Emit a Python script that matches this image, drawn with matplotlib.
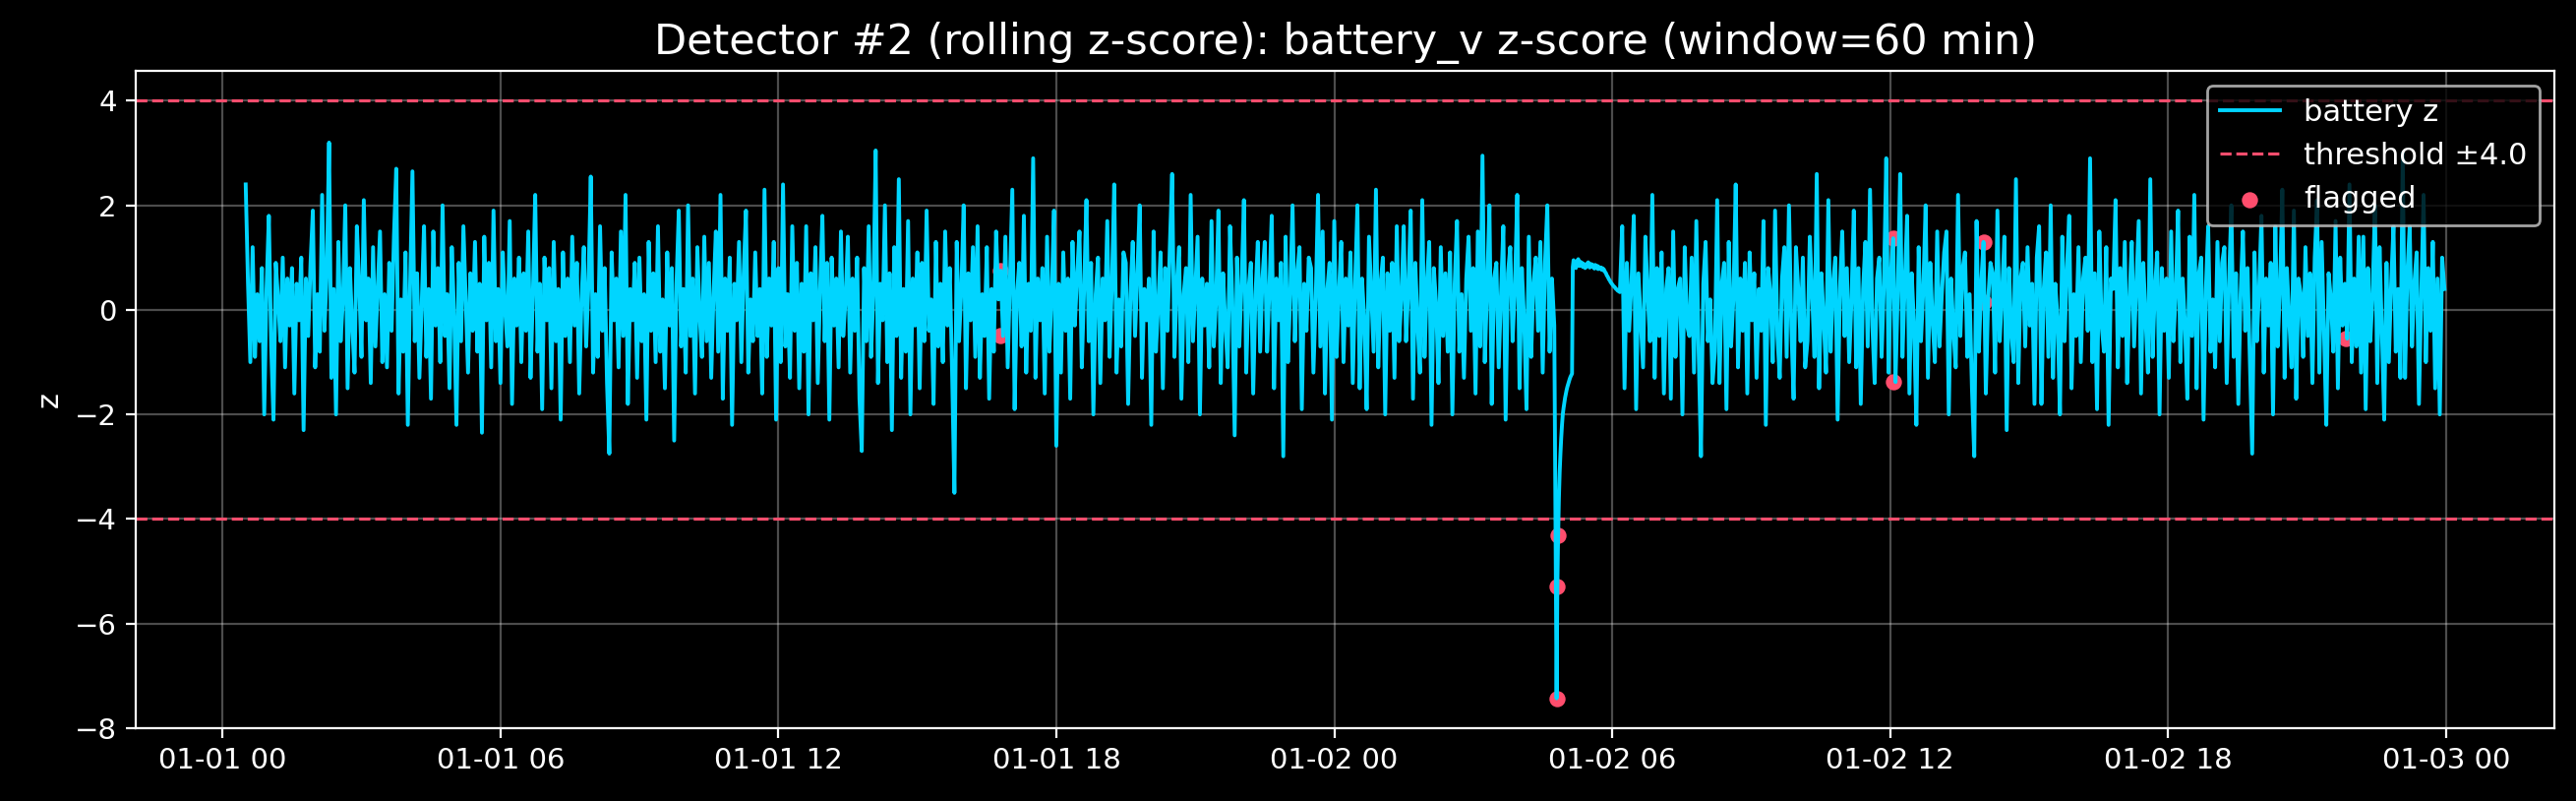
import numpy as np
import pandas as pd
import matplotlib
matplotlib.use("Agg")
import matplotlib.pyplot as plt
import matplotlib.dates as mdates

plt.style.use("dark_background")

# 3-minute readings of the rolling z-score, 01-01 00:30 -> 01-02 04:45
start_1 = "2024-01-01 00:30"
z_part1 = [
    2.4, 0.5, -1.0, 1.2, -0.9, 0.3, -0.6, 0.8, -2.0, 0.4, 1.8, -0.7, -2.1, 0.9, 0.2, -0.6, 1.0, -1.1, 0.6, -0.3,
    0.8, -1.6, 0.5, -0.2, 1.0, -2.3, 0.6, -0.5, 0.9, 1.9, -1.1, 0.3, -0.8, 2.2, -0.4, 0.7, 3.2, -1.3, 0.4, -2.0,
    1.3, -0.6, 0.2, 2.0, -1.5, 0.8, -0.3, -1.2, 1.6, 0.5, -0.9, 2.1, -0.2, 0.6, -1.4, 1.2, -0.7, 0.4, 1.5, -1.0,
    0.3, -1.1, 0.9, -0.4, 1.4, 2.7, -1.6, 0.2, -0.8, 1.1, -2.2, 0.5, 2.65, -0.6, 0.7, -1.3, 0.1, 1.6, -0.9, 0.4,
    -1.7, 1.5, -0.3, 0.8, -1.0, 2.0, -0.5, 0.3, -1.5, 1.2, -0.1, -2.2, 0.9, -0.6, 1.6, 0.2, -1.2, 0.7, -0.4, 1.3,
    -0.8, 0.5, -2.35, 1.4, -0.2, 0.9, -1.1, 1.9, -0.6, 0.4, -1.4, 1.1, 0.0, -0.7, 1.7, -1.8, 0.6, -0.3, 1.0, -1.0,
    0.7, -0.4, 1.5, -1.3, 0.3, 2.2, -0.8, 0.5, -1.9, 1.0, -0.2, 0.8, -1.5, 1.3, -0.6, 0.4, -2.1, 1.1, -0.5, 0.6,
    -1.0, 1.4, -0.3, 0.9, -1.6, 0.2, 1.2, -0.7, 0.5, 2.55, -1.2, 0.3, -0.9, 1.6, -0.4, 0.8, -1.4, -2.75, 1.1, -0.2,
    0.6, -1.1, 1.5, -0.5, 2.2, -1.8, 0.4, -0.2, 0.9, -1.3, 1.0, -0.6, 0.3, -2.1, 1.3, -0.4, 0.7, -1.0, 1.6, -0.8,
    0.2, -1.5, 1.1, -0.3, 0.8, -2.5, 0.5, 1.9, -0.7, 0.4, -1.2, 2.0, -0.5, 0.6, -1.6, 1.2, -0.1, -0.9, 1.4, -0.6,
    0.9, -1.3, 0.3, 1.5, -0.8, 2.2, -1.7, 0.6, -0.4, 1.0, -2.2, 0.5, -0.2, 1.3, -1.0, 0.7, 1.9, -1.2, 0.2, -0.6,
    1.1, -0.5, 0.4, -1.6, 2.3, -0.9, 0.6, -0.3, 1.3, -2.1, 0.8, -1.0, 2.4, -0.7, 0.3, -1.3, 1.6, -0.4, 0.9, -1.5,
    0.5, -0.8, 1.6, -2.0, 0.7, -0.2, 1.2, -1.4, 0.4, 1.8, -0.6, 0.9, -2.1, 1.0, -0.3, 0.6, -1.1, 1.5, -0.5, 0.2,
    1.4, -1.2, 0.6, -0.4, 1.0, -1.7, -2.7, 0.8, -0.6, 1.6, -0.9, 0.3, 3.05, -1.4, 0.5, -0.2, 2.0, -1.0, 0.7, -2.3,
    1.2, -0.5, 2.5, -1.3, 0.4, -0.8, 1.7, -2.0, 0.6, -0.3, 1.1, -1.5, 0.9, -0.6, 1.9, -0.4, 0.2, -1.8, 1.3, -0.7,
    0.5, -1.0, 1.5, -0.3, 0.8, -1.2, -3.5, 1.3, -0.6, 0.4, 2.0, -1.5, 0.7, -0.2, 1.2, -0.9, 1.6, -1.3, 0.3, -0.5,
    1.2, -1.7, 0.4, -0.8, 1.5, 0.2, 0.75, -0.5, 1.4, -1.1, 0.6, 2.3, -1.9, 0.3, 0.9, -0.7, 1.8, -1.2, 0.5, -0.4,
    2.9, -1.3, 0.6, -0.2, 0.8, -1.6, 1.4, -0.8, 0.3, 1.9, -2.6, 0.5, -1.2, 1.1, -0.4, 0.6, -1.7, 1.3, -0.3, 0.7,
    1.5, -1.1, 0.4, 2.1, -0.6, 0.9, -2.0, 0.3, 1.0, -1.4, 0.6, -0.2, 1.7, -0.9, 0.5, 2.4, -1.2, 0.2, -0.7, 1.1,
    0.9, -1.8, 0.3, 1.3, -0.5, 0.7, 2.0, -1.3, 0.4, -0.2, 0.6, -2.2, 1.5, -0.8, 0.1, 1.1, -1.5, 0.8, -0.4, 1.2,
    2.6, -0.9, 0.5, 1.2, -1.7, 0.3, 0.8, -1.0, 2.2, -0.6, 0.4, 1.4, -2.0, 0.6, -0.3, 0.5, -1.1, 1.7, -0.7, 0.2,
    1.9, -1.4, 0.7, -0.3, -1.1, 1.6, 0.2, -2.4, 1.0, -0.7, 0.5, 2.1, -1.2, 0.4, 0.9, -1.6, 0.3, 1.3, -0.8, 0.6,
    1.3, -0.8, 0.4, 1.8, -1.5, 0.6, -0.2, 0.9, -2.8, 1.4, -1.0, 0.3, 2.0, -0.6, 0.7, 1.2, -1.9, 0.5, -0.4, 1.0,
    0.8, -1.2, 0.2, 2.2, -0.7, 1.5, -1.6, 0.4, 0.9, -2.1, 1.7, -0.9, 0.3, 1.3, -1.0, 0.6, -0.3, 1.1, -1.4, 0.5,
    2.0, -1.5, 0.6, -0.2, -1.9, 1.4, 0.3, -0.8, 2.3, -1.1, 0.5, 1.0, -2.0, 0.7, -0.4, 0.9, -1.3, 1.6, -0.6, 0.2,
    1.6, -0.6, 0.4, 1.9, -1.7, 0.9, -0.3, -1.2, 2.1, -0.9, 0.5, 1.3, -2.2, 0.8, 0.1, -1.4, 1.2, -0.5, 0.7, -0.8,
    1.1, -2.0, 0.5, 1.7, -0.8, 0.3, -1.3, 0.6, 1.4, -0.4, 0.8, -1.6, 1.5, -0.7, 2.95, -1.0, 0.4, 2.0, -1.8, 0.6,
    0.9, -1.1, 0.3, 1.6, -2.1, 0.7, 1.2, -0.6, 0.4, 2.2, -1.5, 0.8, -0.2, -1.9, 1.4, -0.9, 0.5, 1.0, -0.4, 1.3,
    -1.2, 0.9, 2.0, -0.8, 0.6, -0.3,
]

# minute readings around the battery drop, 01-02 04:48 -> 06:10
start_dip = "2024-01-02 04:48"
z_dip = [
    -7.43, -5.30, -4.32, -3.6, -3.1, -2.75, -2.45, -2.2, -2.0, -1.88, -1.78,
    -1.68, -1.6, -1.53, -1.47, -1.42, -1.37, -1.32, -1.28, -1.25, -1.22,
    0.82, 0.95, 0.86, 0.90, 0.80, 0.93, 0.85, 0.97, 0.87, 0.84, 0.92, 0.86,
    0.90, 0.82, 0.88, 0.85, 0.80, 0.87, 0.83, 0.89, 0.91, 0.84, 0.81, 0.88,
    0.83, 0.87, 0.82, 0.85, 0.79, 0.86, 0.83, 0.80, 0.84, 0.78, 0.82, 0.79,
    0.81, 0.77, 0.80, 0.76, 0.78, 0.75,
    0.72, 0.70, 0.66, 0.64, 0.61, 0.58, 0.56, 0.53, 0.51, 0.49, 0.47, 0.45,
    0.44, 0.42, 0.40, 0.39, 0.37, 0.36, 0.35, 0.34,
]

# 3-minute readings, 01-02 06:13 -> 23:58
start_2 = "2024-01-02 06:13"
z_part2 = [
    1.6, -1.5, 0.9, -0.4, 0.5, 1.8, -1.9, 0.7, -0.2, -1.1, 1.4, 0.3, -0.6, 2.2, -1.3, 0.8, -0.5, 1.1, -1.6, 0.4,
    0.8, -1.7, 1.5, -0.9, 0.4, 0.6, -2.0, 1.2, -0.3, -0.5, 1.0, -1.2, 1.7, -0.8, -2.8, 0.5, 1.3, -0.6, 0.2, -1.4,
    -0.8, 2.1, -1.4, 0.5, 0.9, -1.9, 1.3, -0.7, 0.2, 2.4, -1.1, 0.6, -0.4, 0.9, -1.6, 1.1, -0.2, 0.7, -1.3, 0.4,
    -0.4, 1.7, -2.2, 0.8, 0.3, -1.0, 1.9, -0.5, -1.3, 0.6, 1.2, -0.9, 2.0, -0.3, -1.7, 1.2, 0.4, -0.6, 1.0, -1.1,
    -0.6, 1.4, 0.3, -0.9, 2.6, -1.5, 0.7, -0.2, -1.2, 2.1, -0.8, 0.5, 1.0, -2.1, 0.4, 1.5, -0.5, 0.8, -1.0, 0.2,
    1.9, -1.1, 0.8, -1.8, 0.4, 1.3, -0.7, 2.3, -0.3, -1.4, 0.6, 1.0, -0.9, 0.5, 2.9, -1.2, 0.7, 1.37, -1.38, 0.4,
    2.6, -0.9, 0.5, 1.8, -1.6, 0.7, -0.3, -2.2, 1.2, -0.6, 0.4, 2.0, -1.3, 0.9, -0.2, -1.0, 1.5, -0.7, 0.3, 1.1,
    1.5, -2.0, 0.6, -0.4, -1.1, 2.2, -0.5, 0.8, 1.1, -0.9, 0.3, -1.5, -2.8, 1.7, -0.8, 0.5, 1.3, -1.6, 0.2, 0.9,
    0.7, -1.2, 1.9, -0.6, 0.3, 1.4, -2.3, 0.8, -0.4, -1.0, 2.5, -1.4, 0.6, 0.9, -0.7, 1.2, -0.3, 0.5, -1.8, 1.0,
    1.6, -1.8, 0.4, 1.1, -0.9, 2.0, -1.3, 0.5, -0.2, -2.0, 1.4, -0.6, 0.8, 1.8, -1.5, 0.3, -0.5, 1.2, -1.0, 0.6,
    1.0, -0.4, 2.9, -1.0, 0.7, -1.9, 1.5, -0.3, -0.8, 1.2, -2.2, 0.6, 0.4, 2.1, -1.1, 0.8, -0.5, 1.3, -1.4, 0.2,
    1.3, -0.7, 0.5, 1.7, -1.6, 0.9, -0.2, -1.2, 2.5, -0.9, 0.4, 1.1, -2.0, 0.8, -0.4, 0.6, -1.3, 1.5, -0.6, 0.3,
    1.9, -1.0, 0.6, -0.3, -1.7, 1.4, -0.5, 2.2, -1.5, 0.7, 1.0, -2.1, 0.4, 1.6, -0.8, 0.2, -1.1, 1.3, -0.6, 0.9,
    1.2, -1.4, 0.5, 2.0, -0.9, 0.7, -1.8, 0.3, 1.5, -0.4, 0.8, -1.0, -2.75, 1.1, -0.6, 0.4, 1.8, -1.2, 0.6, -0.3,
    0.9, -2.0, 1.6, -0.7, 0.4, 2.3, -1.3, 0.8, -0.2, -1.1, 1.9, -1.7, 0.6, 0.3, -0.9, 1.2, -0.5, 0.7, -1.4, 1.0,
    2.1, -1.2, 1.3, -0.4, -2.2, 0.7, 0.2, -0.8, 1.7, -1.5, 1.0, -0.3, 0.5, -0.55, 2.4, -1.0, 0.6, -0.7, 1.4, -1.2,
    1.4, -1.9, 0.8, -0.6, 0.3, 2.0, -1.4, 1.2, -0.4, -2.1, 0.9, -1.0, 0.5, 1.6, -0.8, 0.4, -1.3, 3.0, -1.3, 0.7,
    1.6, -0.7, 0.5, 1.1, -1.8, 0.3, 2.2, -1.0, 0.8, -0.4, 1.3, -1.5, 0.6, -2.0, 1.0, 0.4,
]

flag_times = ["2024-01-01 16:48", "2024-01-01 16:48", "2024-01-02 04:48",
              "2024-01-02 04:49", "2024-01-02 04:50", "2024-01-02 12:04",
              "2024-01-02 12:04", "2024-01-02 14:02", "2024-01-02 14:02",
              "2024-01-02 21:50"]
flag_z = [0.75, -0.5, -7.43, -5.30, -4.32, 1.37, -1.38, 1.30, 0.14, -0.55]

threshold = 4.0

t1 = pd.date_range(start_1, periods=len(z_part1), freq="3min")
td = pd.date_range(start_dip, periods=len(z_dip), freq="1min")
t2 = pd.date_range(start_2, periods=len(z_part2), freq="3min")
times = t1.append(td).append(t2)
z = np.array(z_part1 + z_dip + z_part2)

fig, ax = plt.subplots(figsize=(13.095, 4.07), dpi=200)
fig.subplots_adjust(left=0.0527, right=0.9916, top=0.9115, bottom=0.0909)

ax.plot(times, z, color="#00D5FF", lw=1.4, label="battery z", zorder=3)
ax.axhline(threshold, color="#FF4D6D", ls="--", lw=1.1, label=f"threshold ±{threshold}")
ax.axhline(-threshold, color="#FF4D6D", ls="--", lw=1.1)
ax.scatter(pd.to_datetime(flag_times), flag_z, color="#FF4D6D", s=24,
           label="flagged", zorder=2)

ax.xaxis.set_major_locator(mdates.HourLocator(byhour=[0, 6, 12, 18]))
ax.xaxis.set_major_formatter(mdates.DateFormatter("%m-%d %H"))
ax.tick_params(labelsize=10.5)
ax.grid(True, alpha=0.3)
ax.set_ylabel("z", fontsize=11)
ax.set_title("Detector #2 (rolling z-score): battery_v z-score (window=60 min)",
             fontsize=15.5)
ax.legend(loc="upper right", fontsize=11)

fig.savefig("out.png", dpi=200)
